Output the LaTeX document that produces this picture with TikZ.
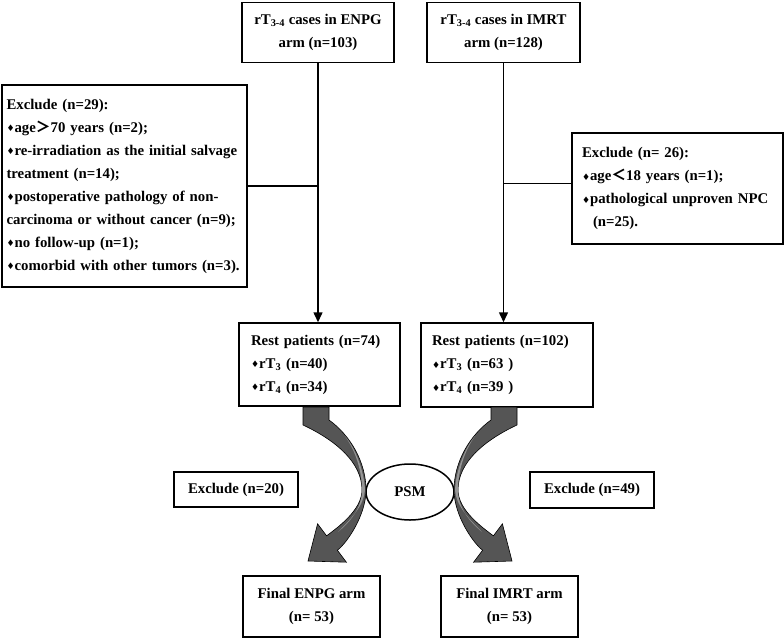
\documentclass[tikz,border=0pt]{standalone}
\usepackage{fontspec}
\setmainfont{Liberation Serif}
\newfontfamily\cjk{Noto Sans CJK SC}
\newfontfamily\dejavu{DejaVu Sans}
\usetikzlibrary{arrows.meta,shapes.geometric}
\newcommand\dm{{\dejavu\fontsize{9}{9}\selectfont\raisebox{0.5pt}{♦}}}
\definecolor{darkg}{RGB}{85,85,85}
\definecolor{lightg}{RGB}{150,150,150}
\newcommand\crescentshape{%
    \fill[darkg, draw=black, line width=0.6pt]
      (303,407) -- (329,407) -- (329,420)
      .. controls (350,435) and (366,462) .. (366,490)
      .. controls (366,515) and (347,543) .. (337.4,550.2)
      -- (346.4,562.2) -- (308,561) -- (317.6,523.8) -- (326.6,535.8)
      .. controls (337.8,527.4) and (362,510) .. (362,490)
      .. controls (362,462) and (335,440) .. (303,425) -- cycle;
    \fill[lightg]
      (362,490) .. controls (362,508) and (350,522) .. (338,532)
      .. controls (352,518) and (364,505) .. (365,490)
      .. controls (364,470) and (355,448) .. (345,436)
      .. controls (355,450) and (362,470) .. (362,490) -- cycle;
}
\begin{document}
\begin{tikzpicture}[x=1pt,y=-1pt,
  every node/.style={font=\fontsize{14.8}{23}\selectfont\bfseries},
  bx/.style={draw, line width=1.5pt, inner sep=0pt, align=center},
  lbx/.style={draw, line width=1.5pt, inner sep=0pt, align=left},
  ln/.style={line width=1.5pt},
  arr/.style={line width=1.5pt, -{Triangle[length=10pt,width=9pt]}}]
\useasboundingbox (0,0) rectangle (784,638);

% top boxes
\node[bx, minimum width=152pt, minimum height=60pt] (tl) at (318,32.5)
  {rT\textsubscript{3-4} cases in ENPG\\arm (n=103)};
\node[bx, minimum width=153pt, minimum height=60pt] (tr) at (503.5,32.5)
  {rT\textsubscript{3-4} cases in IMRT\\arm (n=128)};

% exclusion boxes
\node[lbx, minimum width=245pt, minimum height=202pt, text width=236pt] (exl) at (124.5,186)
  {Exclude (n=29):\\
   \dm age{\cjk ＞}70 years (n=2);\\
   \dm re-irradiation as the initial salvage\\
   treatment (n=14);\\
   \dm postoperative pathology of non-\\
   carcinoma or without cancer (n=9);\\
   \dm no follow-up (n=1);\\
   \dm comorbid with other tumors (n=3).};
\node[lbx, minimum width=211pt, minimum height=111pt, text width=191pt] (exr) at (677.5,188.5)
  {Exclude (n= 26):\\
   \dm age{\cjk ＜}18 years (n=1);\\
   \dm pathological unproven NPC\\
   \hspace*{11pt}(n=25).};

% rest boxes
\node[lbx, minimum width=161pt, minimum height=83pt, text width=137pt] (rl) at (319.5,364.5)
  {Rest patients (n=74)\\
   \dm rT\textsubscript{3} (n=40)\\
   \dm rT\textsubscript{4} (n=34)};
\node[lbx, minimum width=172pt, minimum height=84pt, text width=150pt] (rr) at (507,365)
  {Rest patients (n=102)\\
   \dm rT\textsubscript{3} (n=63 )\\
   \dm rT\textsubscript{4} (n=39 )};

% PSM and small exclusions
\node[draw, ellipse, line width=1.5pt, minimum width=88pt, minimum height=56pt, inner sep=0pt] (psm) at (410,492) {PSM};
\node[bx, minimum width=124pt, minimum height=35pt] (e20) at (236,489.5) {Exclude (n=20)};
\node[bx, minimum width=124pt, minimum height=36pt] (e49) at (592,490) {Exclude (n=49)};

% final boxes
\node[bx, minimum width=137pt, minimum height=61pt] (fl) at (311.5,606.5) {Final ENPG arm\\(n= 53)};
\node[bx, minimum width=137pt, minimum height=61pt] (fr) at (509.5,606.5) {Final IMRT arm\\(n= 53)};

% connectors
\draw[arr] (tl.south) -- (tl.south |- rl.north);
\draw[arr] (tr.south) -- (tr.south |- rr.north);
\coordinate (jl) at (tl.south |- exl.east);
\coordinate (jr) at ([yshift=5pt]exr.west);
\draw[ln] (exl.east) -- (jl);
\draw[ln] (jr) -- (jr -| tr.south);

% curved PSM arrows
\crescentshape
\begin{scope}[xshift=820pt, xscale=-1]
  \crescentshape
\end{scope}
\end{tikzpicture}
\end{document}
